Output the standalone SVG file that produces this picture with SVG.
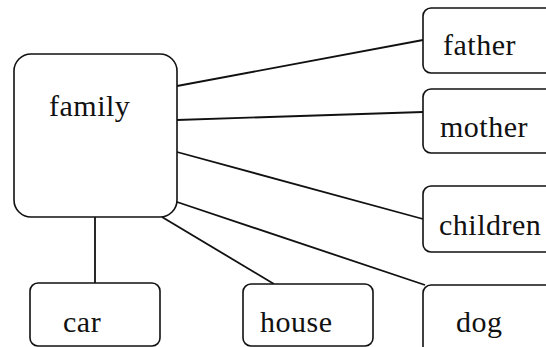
<svg xmlns="http://www.w3.org/2000/svg" width="546" height="347" viewBox="0 0 546 347">
  <style>
    .box { fill: #ffffff; stroke: #111111; stroke-width: 1.6; }
    .link { stroke: #111111; stroke-width: 1.8; fill: none; }
    .label { font-family: 'Liberation Serif', 'DejaVu Serif', serif; font-size: 30px; fill: #111111; }
  </style>
  <rect width="546" height="347" fill="#ffffff"/>

  <g id="connectors">
    <line class="link" x1="177" y1="86" x2="423" y2="40"/>
    <line class="link" x1="177" y1="120" x2="423" y2="112"/>
    <line class="link" x1="177" y1="152" x2="423" y2="219"/>
    <line class="link" x1="177" y1="202" x2="425" y2="285"/>
    <line class="link" x1="162" y1="217" x2="274" y2="284"/>
    <line class="link" x1="95" y1="217" x2="95" y2="283"/>
  </g>

  <g id="family">
    <rect class="box" x="14" y="54" width="163" height="163" rx="17"/>
    <text class="label" x="49" y="116" letter-spacing="0.5">family</text>
  </g>
  <g id="father">
    <rect class="box" x="423" y="8" width="140" height="65" rx="8"/>
    <text class="label" x="443" y="55" letter-spacing="0.5">father</text>
  </g>
  <g id="mother">
    <rect class="box" x="423" y="89" width="140" height="64" rx="8"/>
    <text class="label" x="440" y="137" letter-spacing="0.5">mother</text>
  </g>
  <g id="children">
    <rect class="box" x="423" y="186" width="140" height="66" rx="8"/>
    <text class="label" x="439" y="235" letter-spacing="0.5">children</text>
  </g>
  <g id="dog">
    <rect class="box" x="423" y="285" width="140" height="70" rx="8"/>
    <text class="label" x="456" y="332" letter-spacing="0.5">dog</text>
  </g>
  <g id="car">
    <rect class="box" x="30" y="283" width="130" height="63" rx="8"/>
    <text class="label" x="63" y="332" letter-spacing="0.5">car</text>
  </g>
  <g id="house">
    <rect class="box" x="243" y="284" width="130" height="62" rx="8"/>
    <text class="label" x="260" y="332" letter-spacing="0.5">house</text>
  </g>
</svg>
